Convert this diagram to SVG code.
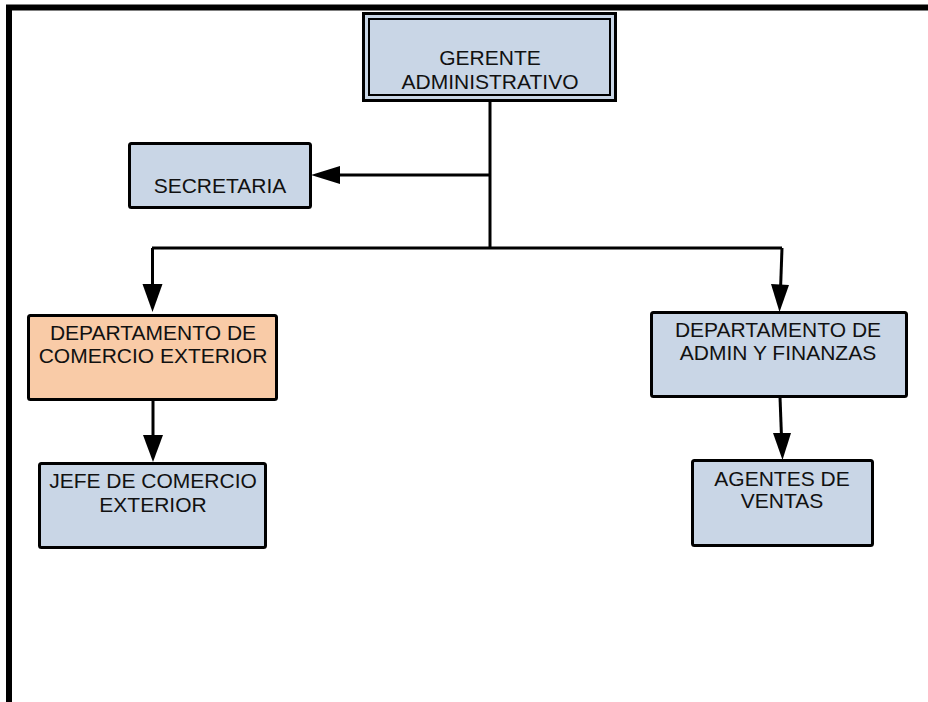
<svg xmlns="http://www.w3.org/2000/svg" width="928" height="702" viewBox="0 0 928 702">
<defs>
<style>
.box{fill:#C9D6E6;stroke:#000;stroke-width:3}
.org{fill:#F9CBA7;stroke:#000;stroke-width:3}
.t{font-family:"Liberation Sans",Arial,sans-serif;font-size:21px;fill:#111;text-anchor:middle}
.ln{fill:none;stroke:#000;stroke-width:3}
.ah{fill:#000}
</style>
</defs>
<rect width="928" height="702" fill="#fff"/>
<path d="M9 702 V7.5 H928" fill="none" stroke="#000" stroke-width="6"/>
<g id="connectors">
<path class="ln" d="M490 101 V248"/>
<path class="ln" d="M490 175 H338"/>
<polygon class="ah" points="311,175 340,166 340,184"/>
<path class="ln" d="M152 248 H782"/>
<path class="ln" d="M152.5 248 V290"/>
<polygon class="ah" points="152.5,312 142.5,284 162.5,284"/>
<path class="ln" d="M782 248 L780.5 290"/>
<polygon class="ah" points="779.5,312 771,284 789,285"/>
<path class="ln" d="M153 400 V440"/>
<polygon class="ah" points="153,462 143,435 163,435"/>
<path class="ln" d="M780 397 L781.5 437"/>
<polygon class="ah" points="782.5,460 773,433 791,433"/>
</g>
<g id="gerente">
<rect x="363.5" y="13.5" width="252" height="87" fill="#C9D6E6" stroke="#000" stroke-width="3"/>
<rect x="369" y="19" width="241" height="76" fill="none" stroke="#000" stroke-width="2"/>
<text class="t" x="490" y="65">GERENTE</text>
<text class="t" x="490" y="89">ADMINISTRATIVO</text>
</g>
<g id="secretaria">
<rect class="box" x="129.5" y="143.5" width="181" height="64" rx="2"/>
<text class="t" x="220" y="193">SECRETARIA</text>
</g>
<g id="depto-comercio">
<rect class="org" x="28.5" y="315.5" width="248" height="84" rx="2"/>
<text class="t" x="153" y="340">DEPARTAMENTO DE</text>
<text class="t" x="153" y="363">COMERCIO EXTERIOR</text>
</g>
<g id="jefe-comercio">
<rect class="box" x="39.5" y="463.5" width="226" height="84" rx="2"/>
<text class="t" x="153" y="488">JEFE DE COMERCIO</text>
<text class="t" x="153" y="512">EXTERIOR</text>
</g>
<g id="depto-admin">
<rect class="box" x="651.5" y="312.5" width="255" height="84" rx="2"/>
<text class="t" x="778" y="337">DEPARTAMENTO DE</text>
<text class="t" x="778" y="360">ADMIN Y FINANZAS</text>
</g>
<g id="agentes">
<rect class="box" x="692.5" y="460.5" width="180" height="85" rx="2"/>
<text class="t" x="782" y="486">AGENTES DE</text>
<text class="t" x="782" y="508">VENTAS</text>
</g>
</svg>
